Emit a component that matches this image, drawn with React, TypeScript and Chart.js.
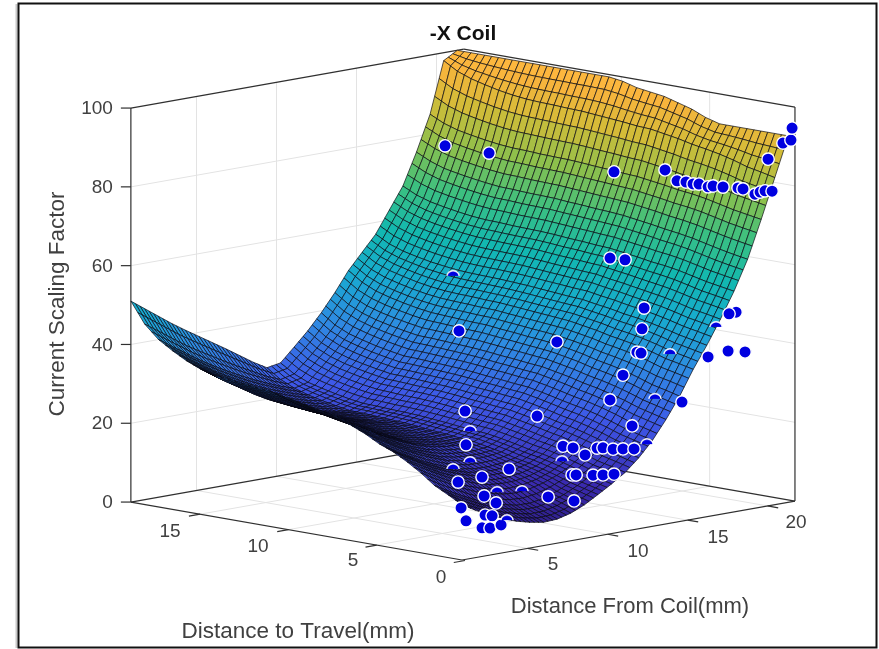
import React, { useEffect, useRef } from "react";
import { Chart, registerables } from "chart.js";

Chart.register(...registerables);

const travelGrid = [0,0.78,1.56,2.34,3.12,3.9,4.69,5.47,6.25,7.03,7.81,8.59,9.38,10.16,10.94,11.72,12.5,13.28,14.06,14.84,15.63,16.41,17.19,17.97,18.75];
const coilGrid = [0.55,1.4,2.25,3.1,3.95,4.8,5.65,6.5,7.35,8.2,9.05,9.9,10.75,11.6,12.45,13.3,14.15,15,15.85,16.7,17.55,18.4,19.25,20.1,20.95];
const surfaceZ = [
[14,12,10.3,8.7,7.4,6.5,5.9,6.1,7,8.5,10.5,12.6,14.9,18,21.8,26.5,31.8,38,43.5,49.5,56,63.5,73,83,93],
[15.9,13.8,12.1,10.4,9.1,8.1,7.4,7.5,8.3,9.6,11.4,13.4,15.8,18.9,22.7,27.4,32.7,38.8,44.2,50.2,56.6,64.1,73.6,83.8,93],
[17.7,15.7,13.9,12.2,10.8,9.8,9,8.9,9.5,10.7,12.3,14.2,16.6,19.8,23.6,28.3,33.5,39.5,44.9,50.8,57.2,64.8,74.2,84.5,93],
[20.3,18.2,16.4,14.6,13.1,12,11.2,10.9,11.3,12.2,13.5,15.3,17.8,21,24.8,29.5,34.7,40.6,45.8,51.7,58,65.6,75,85.6,93],
[22.5,20.4,18.5,16.7,15.2,14,13,12.7,12.8,13.4,14.5,16.3,18.8,22,25.9,30.5,35.8,41.5,46.6,52.5,58.8,66.4,75.8,86.5,93],
[24.4,22.2,20.3,18.4,16.9,15.6,14.6,14.1,14.1,14.5,15.4,17.1,19.7,22.9,26.8,31.4,36.6,42.2,47.3,53.1,59.4,67,76.4,87.2,93],
[25.8,23.7,21.7,19.8,18.2,16.9,15.8,15.2,15.1,15.4,16.1,17.7,20.4,23.6,27.5,32.1,37.3,42.8,47.8,53.7,59.8,67.5,76.8,87.8,94],
[27.7,25.5,23.5,21.6,19.9,18.5,17.3,16.6,16.4,16.5,17,18.5,21.2,24.5,28.3,33,38.2,43.6,48.5,54.3,60.4,68.1,77.4,88.6,95.5],
[29.2,27,24.9,23,21.3,19.8,18.6,17.8,17.4,17.3,17.7,19.2,21.9,25.2,29.1,33.7,38.9,44.2,49,54.8,60.9,68.6,77.9,89.2,96.5],
[30.7,28.4,26.4,24.4,22.6,21.1,19.8,18.9,18.4,18.2,18.4,19.8,22.6,25.9,29.8,34.4,39.5,44.8,49.6,55.4,61.4,69.1,78.4,89.8,97.5],
[31.4,29.2,27.1,25.1,23.3,21.8,20.4,19.5,18.9,18.6,18.7,20.1,22.9,26.2,30.1,34.7,39.9,45.1,49.8,55.6,61.6,69.4,78.6,90,98],
[32.1,29.9,27.8,25.8,24,22.4,21,20.1,19.4,19,19.1,20.4,23.3,26.6,30.5,35.1,40.2,45.4,50.1,55.9,61.9,69.6,78.9,90.4,98.5],
[32.9,30.6,28.5,26.4,24.6,23.1,21.7,20.6,19.9,19.5,19.4,20.8,23.6,26.9,30.8,35.4,40.6,45.7,50.4,56.1,62.1,69.9,79.1,90.7,99.5],
[33.6,31.3,29.2,27.1,25.3,23.7,22.3,21.2,20.4,19.9,19.8,21.1,24,27.3,31.2,35.8,40.9,46,50.7,56.4,62.4,70.1,79.4,91,100],
[34.4,32.1,29.9,27.8,26,24.4,22.9,21.8,20.9,20.3,20.1,21.4,24.3,27.6,31.5,36.1,41.3,46.3,50.9,56.7,62.6,70.4,79.6,91.3,100],
[34.7,32.4,30.3,28.2,26.3,24.7,23.2,22.1,21.2,20.5,20.3,21.6,24.5,27.8,31.7,36.3,41.4,46.4,51.1,56.8,62.7,70.5,79.7,91.4,100],
[35.1,32.8,30.6,28.5,26.7,25,23.5,22.3,21.4,20.8,20.5,21.7,24.6,28,31.9,36.5,41.6,46.6,51.2,56.9,62.8,70.6,79.8,91.6,100],
[35.5,33.2,31,28.9,27,25.4,23.8,22.6,21.7,21,20.7,21.9,24.8,28.2,32.1,36.7,41.8,46.7,51.3,57,63,70.8,80,91.7,100],
[35.8,33.5,31.4,29.2,27.3,25.7,24.1,22.9,21.9,21.2,20.8,22,25,28.3,32.2,36.8,42,46.9,51.5,57.2,63.1,70.9,80.1,91.9,100],
[36.9,34.6,32.4,30.3,28.4,26.7,25.1,23.8,22.7,21.8,21.4,22.5,25.5,28.9,32.8,37.4,42.5,47.3,51.9,57.6,63.4,71.3,80.4,92.3,100],
[38.4,36.1,33.9,31.7,29.7,28,26.3,24.9,23.7,22.7,22.1,23.2,26.2,29.6,33.5,38.1,43.2,47.9,52.4,58.1,63.9,71.8,80.9,92.9,100],
[40.3,37.9,35.6,33.4,31.4,29.6,27.8,26.3,25,23.8,22.9,24,27,30.4,34.4,38.9,44,48.7,53.1,58.7,64.5,72.4,81.5,93.7,100],
[42.5,40.1,37.8,35.5,33.4,31.5,29.7,28,26.5,25.1,24,24.9,28.1,31.5,35.4,40,45,49.6,53.9,59.5,65.2,73.1,82.2,94.6,100],
[45.8,43.4,41,38.6,36.5,34.5,32.5,30.6,28.8,27,25.6,26.4,29.6,33.1,37,41.6,46.6,50.9,55.1,60.7,66.3,74.3,83.3,95.9,100],
[51,48.5,46,43.5,41.2,39,36.8,34.6,32.3,30,28,28.6,32,35.5,39.5,44,49,53,57,62.5,68,76,85,98,100],
];

// measured points, as [travel, coil, factor]
const measured: number[][] = [
[10,10.53,90.1],[10,13.28,86.3],[5,15.57,83.8],[5,18.76,82],[5,19.51,78.7],[5,20.07,78],[5,20.51,77.2],[5,20.88,76.9],
[2,18.14,80.5],[2,18.45,80.5],[2,19.07,79.8],[2,20.01,78.9],[2,20.32,78.4],[0,18.86,79.7],[0,19.18,80],[0,19.49,80.1],[0,19.93,79.7],
[0,19.68,88],[0,20.61,91.4],[0,21.11,91.8],[0,21.18,94.8],
[5,15.32,62.1],[5,16.26,61],[5,17.45,47.9],[5,17.32,42.7],[5,17,37],[5,17.26,36.6],[0,17.68,50.6],[0,17.24,50.5],[0,15.93,40.5],[0,17.18,41.1],[0,18.24,40.1],
[0,14.3,30.2],[5,16.13,31.8],[5,15.32,26.1],[5,16.7,18.5],[10,11.4,42.5],[5,12,43.2],[2,2.95,34.5],[2,7.45,30],
[2,3.01,25.9],[2,9.07,21.2],[2,9.7,20.3],[2,11.2,19.2],[2,11.57,19],[2,10.45,18],[2,12.2,18.2],[2,12.82,17.8],[2,13.51,17.3],
[2,5.7,17.8],[2,4.01,17],[2,2.51,16.8],[2,9.64,13.5],[2,9.89,13.3],[2,10.95,12.5],[2,11.57,12.1],[2,12.26,11.8],
[2,4.14,12.1],[2,4.89,9.8],[2,8.14,9],[2,9.76,6.8],[2,2.7,10.1],[2,4.2,7.2],[2,4.64,6.7],[2,3.01,6.6],[2,4.01,4.1],[2,4.51,3.7],[2,5.2,4],
];
// measured points that sit mostly behind the surface
const measuredBehind: number[][] = [
[10,11.03,56.5],[0,16.43,47.5],[5,19.07,34.8],[5,18.13,24.1],[2,3.26,29],[2,3.26,21.1],[2,2.2,20.1],[2,9.01,17.2],[2,6.51,11.4],[2,4.95,12.3],[2,14.32,17.7],[2,5.57,4.7],
];

const factorTicks = [0, 20, 40, 60, 80, 100];
const travelTicks = [0, 5, 10, 15];
const coilTicks = [5, 10, 15, 20];
const titleText = "-X Coil";
const factorLabel = "Current Scaling Factor";
const travelLabel = "Distance to Travel(mm)";
const coilLabel = "Distance From Coil(mm)";

const TMAX = 18.75, CMIN = 0.55, CMAX = 21.36, ZMAX = 100;
const project = (t: number, c: number, z: number) => ({
  x: 462 - 17.66 * t + 16 * (c - CMIN),
  y: 560 - 3.09 * t - 2.83 * (c - CMIN) - 3.94 * z,
});
const depth = (t: number, c: number, z: number) => 17.5 * t + 15.8 * c - 0.695 * z;

const stops: [number, number[]][] = [
  [0, [38, 22, 110]], [12, [58, 42, 175]], [25, [62, 88, 232]], [38, [46, 140, 226]], [48, [24, 170, 208]],
  [58, [18, 184, 176]], [68, [60, 192, 128]], [78, [140, 192, 76]], [88, [210, 188, 56]], [96, [248, 180, 60]], [100, [255, 185, 63]],
];
const colour = (z: number) => {
  for (let k = 1; k < stops.length; k++) {
    if (z <= stops[k][0]) {
      const [a, ca] = stops[k - 1], [b, cb] = stops[k];
      const f = (z - a) / (b - a);
      return `rgb(${ca.map((v, n) => Math.round(v + (cb[n] - v) * f)).join(",")})`;
    }
  }
  return "rgb(255,185,63)";
};

const MESH_T = 2, MESH_C = 3;

const scenePlugin = {
  id: "scene",
  beforeDatasetsDraw(chart: any) {
    const { ctx, scales } = chart;
    const px = (p: { x: number; y: number }) => [scales.x.getPixelForValue(p.x), scales.y.getPixelForValue(p.y)];
    const seg = (a: any, b: any) => {
      const [x1, y1] = px(a), [x2, y2] = px(b);
      ctx.beginPath(); ctx.moveTo(x1, y1); ctx.lineTo(x2, y2); ctx.stroke();
    };
    ctx.save();
    // outer picture frame
    ctx.strokeStyle = "#c8c8c8"; ctx.lineWidth = 2;
    ctx.beginPath(); ctx.moveTo(16.5, 4); ctx.lineTo(16.5, 648); ctx.stroke();
    ctx.strokeStyle = "#111"; ctx.lineWidth = 2;
    ctx.strokeRect(18.5, 3.5, 858, 644);

    const COFF = -0.35, TOFF = -0.17;
    // grid
    ctx.strokeStyle = "#e3e3e3"; ctx.lineWidth = 1;
    factorTicks.slice(1, 5).forEach((z) => {
      seg(project(TMAX, CMIN, z), project(TMAX, CMAX, z));
      seg(project(TMAX, CMAX, z), project(0, CMAX, z));
    });
    coilTicks.forEach((c) => {
      const cc = c + COFF;
      seg(project(TMAX, cc, 0), project(TMAX, cc, ZMAX));
      seg(project(0, cc, 0), project(TMAX, cc, 0));
    });
    travelTicks.slice(1).forEach((t) => {
      const tt = t + TOFF;
      seg(project(tt, CMAX, 0), project(tt, CMAX, ZMAX));
      seg(project(tt, CMIN, 0), project(tt, CMAX, 0));
    });
    // box
    ctx.strokeStyle = "#303030"; ctx.lineWidth = 1.2;
    seg(project(TMAX, CMIN, 0), project(TMAX, CMIN, ZMAX));
    seg(project(0, CMAX, 0), project(0, CMAX, ZMAX));
    seg(project(TMAX, CMIN, ZMAX), project(TMAX, CMAX, ZMAX));
    seg(project(TMAX, CMAX, ZMAX), project(0, CMAX, ZMAX));
    seg(project(TMAX, CMIN, 0), project(TMAX, CMAX, 0));
    seg(project(TMAX, CMAX, 0), project(0, CMAX, 0));
    seg(project(TMAX, CMIN, 0), project(0, CMIN, 0));
    seg(project(0, CMIN, 0), project(0, CMAX, 0));
    // tick marks
    factorTicks.forEach((z) => {
      const p = project(TMAX, CMIN, z);
      seg(p, { x: p.x - 10, y: p.y });
    });
    travelTicks.forEach((t) => {
      const tt = t + TOFF;
      seg(project(tt, CMIN, 0), project(tt, CMIN - 0.7, 0));
    });
    coilTicks.forEach((c) => {
      const cc = c + COFF;
      seg(project(0, cc, 0), project(-0.6, cc, 0));
    });

    // surface: cells from the table, each carrying mesh midlines
    const quads: { d: number; z: number; pts: number[][] }[] = [];
    for (let i = 0; i < travelGrid.length - 1; i++) {
      for (let j = 0; j < coilGrid.length - 1; j++) {
        const [t0, t1, c0, c1] = [travelGrid[i], travelGrid[i + 1], coilGrid[j], coilGrid[j + 1]];
        const [z00, z10, z01, z11] = [surfaceZ[i][j], surfaceZ[i + 1][j], surfaceZ[i][j + 1], surfaceZ[i + 1][j + 1]];
        const at = (a: number, b: number) => {
          const z = z00 * (1 - a) * (1 - b) + z10 * a * (1 - b) + z01 * (1 - a) * b + z11 * a * b;
          return [t0 + (t1 - t0) * a, c0 + (c1 - c0) * b, z];
        };
        for (let a = 0; a < MESH_T; a++) for (let b = 0; b < MESH_C; b++) {
          const corners = [at(a / MESH_T, b / MESH_C), at((a + 1) / MESH_T, b / MESH_C), at((a + 1) / MESH_T, (b + 1) / MESH_C), at(a / MESH_T, (b + 1) / MESH_C)];
          const m = corners.reduce((s, v) => [s[0] + v[0] / 4, s[1] + v[1] / 4, s[2] + v[2] / 4], [0, 0, 0]);
          quads.push({ d: depth(m[0], m[1], m[2]), z: m[2], pts: corners.map((v) => px(project(v[0], v[1], v[2]))) });
        }
      }
    }
    quads.sort((p, q) => q.d - p.d);
    ctx.lineWidth = 0.8;
    ctx.lineJoin = "round";
    ctx.strokeStyle = "rgba(8,8,16,0.85)";
    quads.forEach((q) => {
      ctx.beginPath();
      q.pts.forEach((p, n) => (n ? ctx.lineTo(p[0], p[1]) : ctx.moveTo(p[0], p[1])));
      ctx.closePath();
      ctx.fillStyle = colour(q.z);
      ctx.fill();
      ctx.stroke();
    });

    // text
    const text = (s: string, x: number, y: number, font: string, color: string, align: CanvasTextAlign = "center", rot = 0) => {
      ctx.save();
      ctx.translate(x, y); ctx.rotate(rot);
      ctx.font = font; ctx.fillStyle = color; ctx.textAlign = align; ctx.textBaseline = "middle";
      ctx.fillText(s, 0, 0);
      ctx.restore();
    };
    const FONT = '"Liberation Sans", Arial, sans-serif';
    const gray = "#404040";
    text(titleText, 463, 34, `bold 21px ${FONT}`, "#111");
    factorTicks.forEach((z) => {
      const p = px(project(TMAX, CMIN, z));
      text(String(z), p[0] - 18, p[1] + 1, `19px ${FONT}`, gray, "right");
    });
    const tLab: Record<number, number[]> = { 15: [170, 532], 10: [258, 547], 5: [353, 561], 0: [441, 578] };
    travelTicks.forEach((t) => text(String(t), tLab[t][0], tLab[t][1], `19px ${FONT}`, gray));
    const cLab: Record<number, number[]> = { 5: [553, 565], 10: [638, 552], 15: [718, 538], 20: [796, 523] };
    coilTicks.forEach((c) => text(String(c), cLab[c][0], cLab[c][1], `19px ${FONT}`, gray));
    text(factorLabel, 58, 304, `22.5px ${FONT}`, gray, "center", -Math.PI / 2);
    text(travelLabel, 298, 632, `22.5px ${FONT}`, gray);
    text(coilLabel, 630, 607, `22px ${FONT}`, gray);
    ctx.restore();
  },
};

export default function App() {
  const ref = useRef<HTMLCanvasElement>(null);
  useEffect(() => {
    const crescent = document.createElement("canvas");
    crescent.width = 16; crescent.height = 16;
    const cc = crescent.getContext("2d")!;
    cc.beginPath(); cc.rect(0, 0, 16, 7); cc.clip();
    cc.beginPath(); cc.arc(8, 8, 6.2, 0, Math.PI * 2);
    cc.fillStyle = "#0000e0"; cc.fill();
    cc.lineWidth = 1.4; cc.strokeStyle = "#ffffff"; cc.stroke();

    const toPoint = (m: number[]) => project(m[0], m[1], m[2]);
    const chart = new Chart(ref.current!, {
      type: "scatter",
      data: {
        datasets: [
          { label: "behind surface", data: measuredBehind.map(toPoint), pointStyle: crescent as any, pointRadius: 8 },
          {
            label: "measured",
            data: measured.map(toPoint),
            pointRadius: 6.2,
            pointBackgroundColor: "#0000e0",
            pointBorderColor: "#ffffff",
            pointBorderWidth: 1.4,
          },
        ],
      },
      options: {
        animation: false,
        responsive: false,
        layout: { padding: 0, autoPadding: false },
        plugins: { legend: { display: false }, tooltip: { enabled: false } },
        scales: {
          x: { type: "linear", min: 0, max: 879, display: false },
          y: { type: "linear", min: 0, max: 649, reverse: true, display: false },
        },
      },
      plugins: [scenePlugin],
    });
    return () => chart.destroy();
  }, []);
  return (
    <canvas
      ref={ref}
      width={879}
      height={649}
      style={{ position: "absolute", left: 0, top: 0, width: 879, height: 649, background: "#fff" }}
    />
  );
}
